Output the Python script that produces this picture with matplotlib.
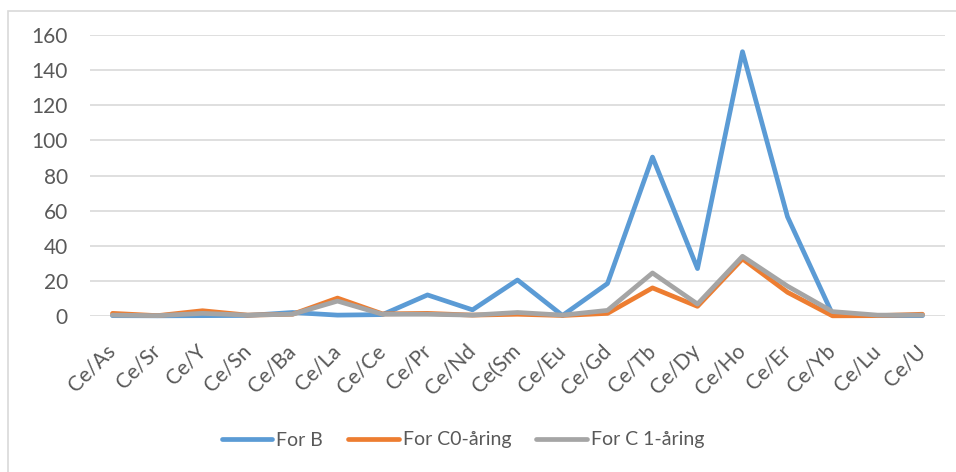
import matplotlib.pyplot as plt
from matplotlib.patches import Rectangle

categories = ['Ce/As', 'Ce/Sr', 'Ce/Y', 'Ce/Sn', 'Ce/Ba', 'Ce/La', 'Ce/Ce', 'Ce/Pr', 'Ce/Nd', 'Ce(Sm',
              'Ce/Eu', 'Ce/Gd', 'Ce/Tb', 'Ce/Dy', 'Ce/Ho', 'Ce/Er', 'Ce/Yb', 'Ce/Lu', 'Ce/U']
for_b = [0.2, 0.1, 0.2, 0.3, 2.0, 0.5, 0.8, 12.0, 3.5, 20.5, 0.3, 18.5, 90.5, 27.0, 150.5, 56.5, 1.0, 0.2, 0.2]
for_c0 = [1.5, 0.2, 3.0, 0.5, 1.0, 10.2, 1.2, 1.5, 0.5, 1.0, 0.3, 1.5, 16.0, 5.5, 32.5, 13.5, 0.1, 0.2, 1.0]
for_c1 = [0.5, 0.2, 1.5, 0.5, 1.0, 8.5, 1.0, 1.0, 0.5, 2.0, 0.5, 3.2, 24.5, 6.8, 34.0, 17.0, 2.5, 0.5, 0.5]
series_names = ['For B', 'For C0-åring', 'For C 1-åring']

plt.rcParams['font.family'] = ['Lato', 'DejaVu Sans']
text_col = '#595959'
grid_col = '#D9D9D9'

W, H = 956, 472
fig = plt.figure(figsize=(W / 100, H / 100), dpi=100)
# outer chart border (only left and top edges fall inside the image)
fig.patches.append(Rectangle((8 / W, -0.1), 1.2, 1 - 11 / H + 0.1, transform=fig.transFigure,
                             fill=False, edgecolor=grid_col, linewidth=1.2))

ax = fig.add_axes([90 / W, (H - 316) / H, 855 / W, 281 / H])
x = list(range(len(categories)))
colors = ['#5B9BD5', '#ED7D31', '#A5A5A5']
for vals, name, c in zip([for_b, for_c0, for_c1], series_names, colors):
    ax.plot(x, vals, color=c, lw=3.4, label=name, clip_on=False,
            solid_capstyle='round', solid_joinstyle='round', zorder=3)

ax.set_xlim(-0.5, len(categories) - 0.5)
ax.set_ylim(0, 160)
ax.set_yticks(range(0, 161, 20))
ax.yaxis.grid(True, color=grid_col, lw=1.2)
ax.set_axisbelow(True)
for s in ax.spines.values():
    s.set_visible(False)
ax.tick_params(axis='both', length=0, colors=text_col, labelsize=15)
ax.tick_params(axis='y', pad=16)
ax.set_xticks(x)
ax.set_xticklabels(categories, rotation=45, ha='right', va='center', rotation_mode='anchor')
ax.tick_params(axis='x', pad=23)

fig.legend(loc='center', bbox_to_anchor=(463 / W, 1 - 440 / H), ncol=3, frameon=False,
           fontsize=14, handlelength=2.6, handletextpad=0.2, columnspacing=1.3,
           labelcolor=text_col)

fig.savefig('out.png', dpi=100)
